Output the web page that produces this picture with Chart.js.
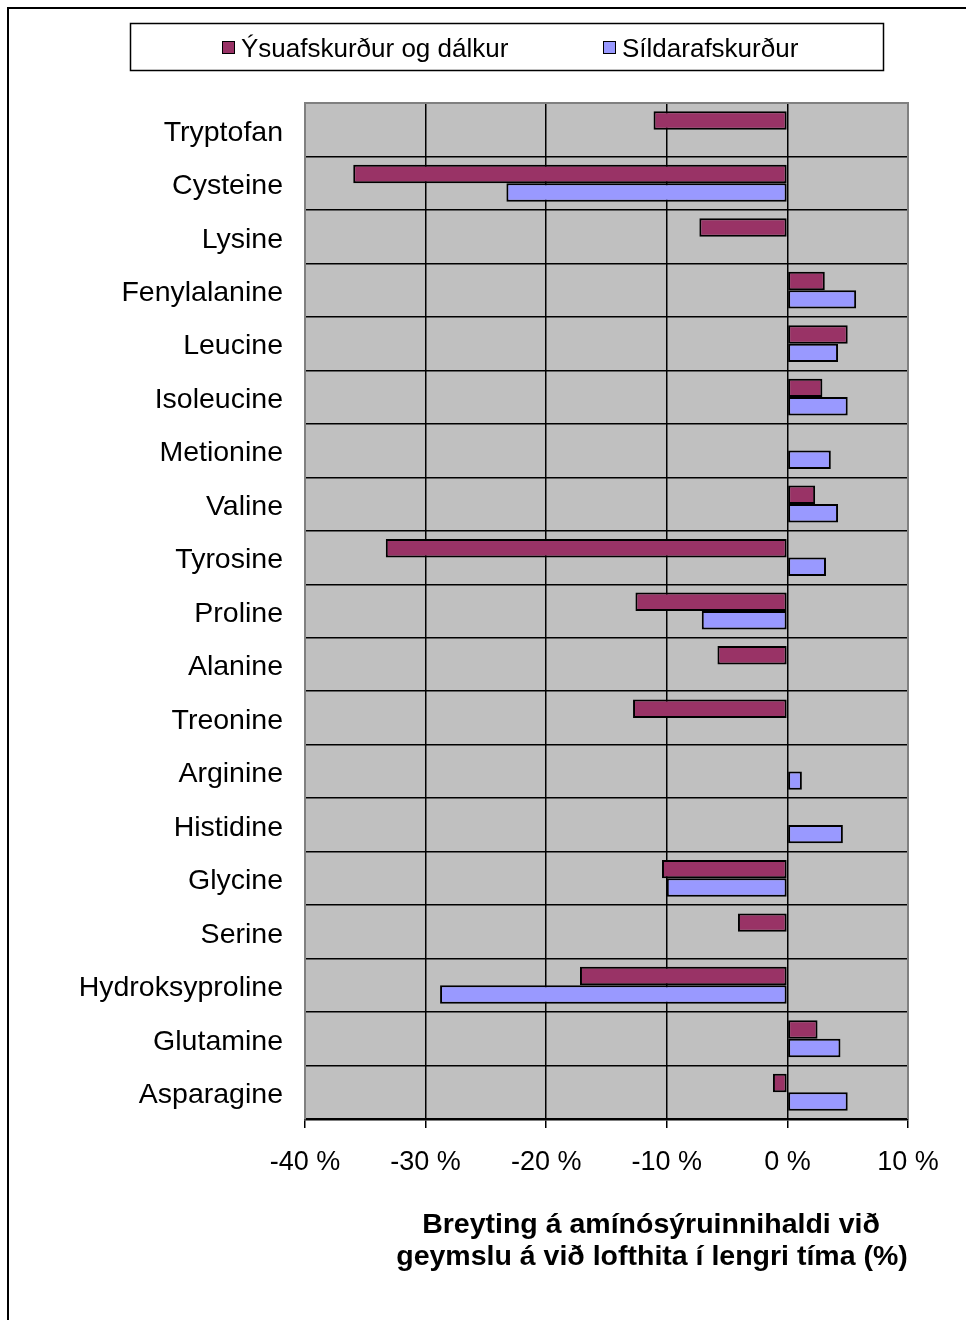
<!DOCTYPE html>
<html>
<head>
<meta charset="utf-8">
<script src="https://cdn.jsdelivr.net/npm/chart.js@4"></script>
<style>
  body { margin: 0; background: #fff; }
  canvas { display: block; }
</style>
</head>
<body>
<canvas id="aminoChart" width="966" height="1320"></canvas>
<script>
// amino acids, top to bottom
const categories = ['Tryptofan', 'Cysteine', 'Lysine', 'Fenylalanine', 'Leucine', 'Isoleucine',
  'Metionine', 'Valine', 'Tyrosine', 'Proline', 'Alanine', 'Treonine', 'Arginine', 'Histidine',
  'Glycine', 'Serine', 'Hydroksyproline', 'Glutamine', 'Asparagine'];

// % change (null = no bar)
const ysuValues = [-11.1, -36.0, -7.3, 3.1, 5.0, 2.9, null, 2.3, -33.3, -12.6, -5.8, -12.8,
  null, null, -10.4, -4.1, -17.2, 2.5, -1.2];
const sildValues = [null, -23.3, null, 5.7, 4.2, 5.0, 3.6, 4.2, 3.2, -7.1, null, null,
  1.2, 4.6, -10.0, null, -28.8, 4.4, 5.0];

const seriesNames = ['Ýsuafskurður og dálkur', 'Síldarafskurður'];
const xTicks = [-40, -30, -20, -10, 0, 10];
const axisTitle = ['Breyting á amínósýruinnihaldi við', 'geymslu á við lofthita í lengri tíma (%)'];

const FONT = '"Liberation Sans", Arial, sans-serif';

// gray plot background, frame, legend box and axis title
const decor = {
  id: 'decor',
  beforeDraw(chart) {
    const { ctx, chartArea: a } = chart;
    ctx.save();
    ctx.fillStyle = '#c0c0c0';
    ctx.fillRect(a.left, a.top, a.right - a.left, a.bottom - a.top);
    ctx.restore();
  },
  afterDraw(chart) {
    const { ctx, chartArea: a } = chart;
    ctx.save();
    // gray plot edges
    ctx.strokeStyle = '#808080';
    ctx.lineWidth = 2;
    ctx.beginPath();
    ctx.moveTo(a.left, a.bottom);
    ctx.lineTo(a.left, a.top);
    ctx.lineTo(a.right, a.top);
    ctx.lineTo(a.right, a.bottom);
    ctx.stroke();

    // outer frame
    ctx.strokeStyle = '#000';
    ctx.lineWidth = 2;
    ctx.beginPath();
    ctx.moveTo(8, 1320);
    ctx.lineTo(8, 8);
    ctx.lineTo(966, 8);
    ctx.stroke();

    // legend
    ctx.lineWidth = 1.5;
    ctx.strokeRect(130.5, 23.5, 753, 47);
    const items = [
      { x: 222, color: '#993366', text: seriesNames[0] },
      { x: 603, color: '#9999ff', text: seriesNames[1] }
    ];
    ctx.font = '26px ' + FONT;
    ctx.textBaseline = 'alphabetic';
    ctx.textAlign = 'left';
    items.forEach(it => {
      ctx.fillStyle = it.color;
      ctx.fillRect(it.x, 41, 12, 12);
      ctx.lineWidth = 1;
      ctx.strokeStyle = '#000';
      ctx.strokeRect(it.x + 0.5, 41.5, 12, 12);
      ctx.fillStyle = '#000';
      ctx.fillText(it.text, it.x + 19, 57);
    });

    // axis title
    ctx.font = 'bold 28.5px ' + FONT;
    ctx.textAlign = 'center';
    ctx.fillText(axisTitle[0], 651, 1233);
    ctx.fillText(axisTitle[1], 652, 1265);
    ctx.restore();
  }
};

const ctx = document.getElementById('aminoChart').getContext('2d');
new Chart(ctx, {
  type: 'bar',
  data: {
    labels: categories,
    datasets: [{
      label: seriesNames[0],
      data: ysuValues,
      backgroundColor: '#993366',
      borderColor: '#000',
      borderWidth: 2,
      borderSkipped: false
    }, {
      label: seriesNames[1],
      data: sildValues,
      backgroundColor: '#9999ff',
      borderColor: '#000',
      borderWidth: 2,
      borderSkipped: false
    }]
  },
  options: {
    indexAxis: 'y',
    responsive: false,
    animation: false,
    categoryPercentage: 0.69,
    barPercentage: 1.0,
    layout: { padding: { top: 103, right: 58, left: 0, bottom: 0 } },
    plugins: {
      legend: { display: false },
      tooltip: { enabled: false }
    },
    scales: {
      x: {
        min: -40,
        max: 10,
        afterBuildTicks(scale) {
          scale.ticks = xTicks.map(v => ({ value: v }));
        },
        afterFit(scale) { scale.height = 201; },
        grid: { color: '#000', lineWidth: 1.5, tickColor: '#000', tickLength: 9 },
        border: { color: '#000', width: 2.5 },
        ticks: {
          color: '#000',
          padding: 18,
          font: { family: FONT, size: 27 },
          callback: v => v + ' %'
        }
      },
      y: {
        afterFit(scale) { scale.width = 305; },
        grid: { color: '#000', lineWidth: 1.5, drawTicks: false, offset: true },
        border: { color: '#808080', width: 2 },
        ticks: {
          color: '#000',
          padding: 22,
          labelOffset: 3,
          font: { family: FONT, size: 28.5 }
        }
      }
    }
  },
  plugins: [decor]
});
</script>
</body>
</html>
